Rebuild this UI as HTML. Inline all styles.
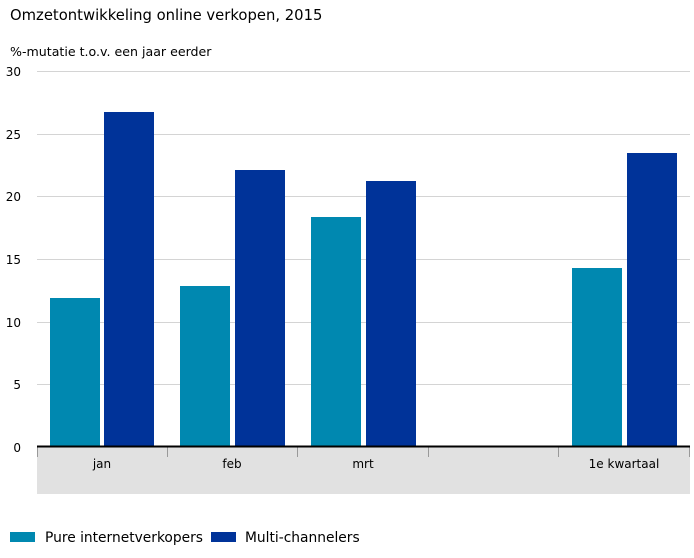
<!DOCTYPE html>
<html><head><meta charset="utf-8"><style>
body{margin:0;background:#fff;}
svg text{font-family:"DejaVu Sans","Liberation Sans",sans-serif;fill:#000;}
</style></head><body>
<svg width="694" height="553" viewBox="0 0 694 553" xmlns="http://www.w3.org/2000/svg">
<text x="10" y="20" font-size="14.8">Omzetontwikkeling online verkopen, 2015</text>
<text x="10" y="56" font-size="12.6">%-mutatie t.o.v. een jaar eerder</text>
<g stroke="#d4d4d4" stroke-width="1">
<line x1="37" x2="690" y1="71.5" y2="71.5"/>
<line x1="37" x2="690" y1="134.5" y2="134.5"/>
<line x1="37" x2="690" y1="196.5" y2="196.5"/>
<line x1="37" x2="690" y1="259.5" y2="259.5"/>
<line x1="37" x2="690" y1="322.5" y2="322.5"/>
<line x1="37" x2="690" y1="384.5" y2="384.5"/>
</g>
<g font-size="12" text-anchor="end">
<text x="21" y="76">30</text><text x="21" y="139">25</text><text x="21" y="201">20</text>
<text x="21" y="264">15</text><text x="21" y="327">10</text><text x="21" y="389">5</text>
<text x="21" y="452">0</text>
</g>
<rect x="37" y="447" width="653" height="47" fill="#e1e1e1"/>
<g stroke="#999" stroke-width="1">
<line x1="37.5" x2="37.5" y1="447" y2="457"/><line x1="167.5" x2="167.5" y1="447" y2="457"/>
<line x1="297.5" x2="297.5" y1="447" y2="457"/><line x1="428.5" x2="428.5" y1="447" y2="457"/>
<line x1="558.5" x2="558.5" y1="447" y2="457"/><line x1="689.5" x2="689.5" y1="447" y2="457"/>
</g>
<g fill="#0088b0">
<rect x="50" y="298" width="50" height="149"/>
<rect x="180" y="286" width="50" height="161"/>
<rect x="311" y="217" width="50" height="230"/>
<rect x="572" y="268" width="50" height="179"/>
</g>
<g fill="#003399">
<rect x="104" y="112" width="50" height="335"/>
<rect x="235" y="170" width="50" height="277"/>
<rect x="366" y="181" width="50" height="266"/>
<rect x="627" y="153" width="50" height="294"/>
</g>
<line x1="37" x2="690" y1="446.5" y2="446.5" stroke="#000" stroke-width="2"/>
<g font-size="12" text-anchor="middle">
<text x="102" y="468">jan</text><text x="232" y="468">feb</text>
<text x="363" y="468">mrt</text><text x="624" y="468">1e kwartaal</text>
</g>
<rect x="10" y="532" width="25" height="10" fill="#0088b0"/>
<text x="45" y="542" font-size="13.8">Pure internetverkopers</text>
<rect x="211" y="532" width="25" height="10" fill="#003399"/>
<text x="245" y="542" font-size="13.8">Multi-channelers</text>
</svg>
</body></html>
